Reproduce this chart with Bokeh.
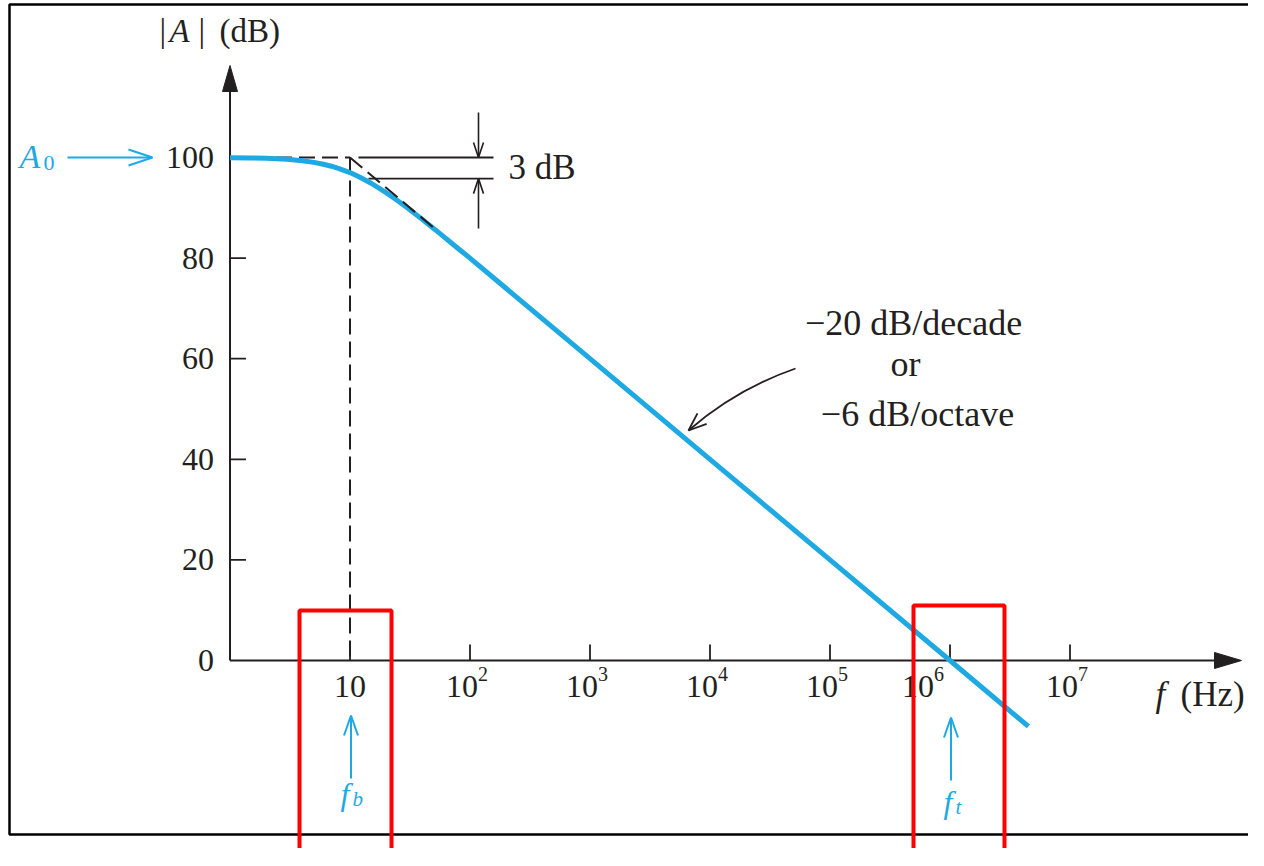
import math
from bokeh.plotting import figure
from bokeh.models import Range1d
from bokeh.core.properties import value
from bokeh.embed import file_html
from bokeh.resources import INLINE

# ---------------- data ----------------
freq_hz = [1, 1.5, 2, 3, 4, 5, 6, 7, 8, 10, 12, 15, 20, 25, 30, 40, 50, 60, 70, 80,
           100, 1e3, 1e4, 1e5, 1e6, 4.5e6]
gain_db = [99.96, 99.9, 99.83, 99.63, 99.36, 99.03, 98.66, 98.27, 97.85, 97.0, 96.13,
           94.88, 93.0, 91.4, 90.0, 87.7, 85.85, 84.32, 83.0, 81.87,
           80.0, 60.0, 40.0, 20.0, 0.0, -13.1]

asym_hz = [1, 10, 53]          # dashed asymptote
asym_db = [100, 100, 85.5]

x_tick_hz = [10, 1e2, 1e3, 1e4, 1e5, 1e6, 1e7]
x_tick_exp = [1, 2, 3, 4, 5, 6, 7]
y_ticks_db = [0, 20, 40, 60, 80, 100]
y_tick_labels = ["0", "20", "40", "60", "80", "100"]

A0_DB = 100
FB_HZ = 10
FT_HZ = 1e6
DROP_DB = 3

# ---------------- layout helpers ----------------
W, H = 1248, 848
OFF = 0
X_ORIGIN, PX_PER_DEC = 229.5, 120.0
Y_ORIGIN, PX_PER_DB = 660.0, 5.03
TDY = -12   # baseline correction for text glyphs (px)

def hz(px):
    return 10 ** ((px - X_ORIGIN) / PX_PER_DEC)

def db(py):
    return (Y_ORIGIN - py) / PX_PER_DB

def px_x(f):
    return X_ORIGIN + PX_PER_DEC * math.log10(f)

def px_y(d):
    return Y_ORIGIN - PX_PER_DB * d

INK = "#231f20"
BLUE = "#1ea9e3"
RED = "#ff0000"
SERIF = "Liberation Serif"

p = figure(width=W, height=H, output_backend="svg", toolbar_location=None,
           x_axis_type="log", x_axis_location=None, y_axis_location=None,
           x_range=Range1d(hz(OFF), hz(OFF + W)),
           y_range=Range1d(db(OFF + H), db(OFF)),
           min_border=0, outline_line_color=None, background_fill_color="white",
           border_fill_color="white")
p.min_border_left = p.min_border_right = p.min_border_top = p.min_border_bottom = 0
p.xgrid.grid_line_color = None
p.ygrid.grid_line_color = None


def txt(x_px, y_px, s, size, align="left", italic=False, color=INK):
    p.text(x=[hz(x_px)], y=[db(y_px + TDY)], text=[s], text_font=value(SERIF),
           text_font_size=f"{size}px", text_align=align, text_baseline="alphabetic",
           text_font_style="italic" if italic else "normal", text_color=color)


def head_pts(tip, direction, length, half):
    tx, ty = tip
    dx, dy = direction
    n = math.hypot(dx, dy)
    dx, dy = dx / n, dy / n
    bx, by = tx - dx * length, ty - dy * length
    nx, ny = -dy, dx
    pts = [(bx + nx * half, by + ny * half), (tx, ty), (bx - nx * half, by - ny * half)]
    return [hz(a) for a, _ in pts], [db(b) for _, b in pts]


def open_head(tip, direction, length, half, color=INK, width=1.6):
    xs, ys = head_pts(tip, direction, length, half)
    p.line(xs, ys, line_color=color, line_width=width)


def filled_head(tip, direction, length, half, color=INK):
    xs, ys = head_pts(tip, direction, length, half)
    p.patch(xs, ys, fill_color=color, line_color=color, line_width=1)


# ---------------- frame ----------------
p.line([hz(1300), hz(9), hz(9), hz(1300)], [db(4), db(4), db(834), db(834)],
       line_color="black", line_width=2.5)

# ---------------- axes ----------------
x_axis_end = hz(1236)
y_axis_top = db(70)
p.line([1, x_axis_end], [0, 0], line_color=INK, line_width=2)
p.line([1, 1], [0, y_axis_top], line_color=INK, line_width=2)
filled_head((1241, px_y(0)), (1, 0), 27, 8)
filled_head((px_x(1), 65), (0, -1), 26, 7.5)

# ticks
p.segment(x0=x_tick_hz, y0=[0] * len(x_tick_hz), x1=x_tick_hz,
          y1=[db(px_y(0) - 16)] * len(x_tick_hz), line_color=INK, line_width=1.8)
yt = [v for v in y_ticks_db if v > 0]
p.segment(x0=[1] * len(yt), y0=yt, x1=[hz(px_x(1) + 16)] * len(yt), y1=yt,
          line_color=INK, line_width=1.8)

# y tick labels
p.text(x=[1] * len(y_ticks_db), y=y_ticks_db, text=y_tick_labels, x_offset=-16,
       y_offset=12 + TDY,
       text_font=value(SERIF), text_font_size="32px", text_align="right",
       text_baseline="alphabetic", text_color=INK)

# x tick labels (10, 10^2 ... 10^7)
for f, e in zip(x_tick_hz, x_tick_exp):
    if e == 1:
        p.text(x=[f], y=[0], text=["10"], y_offset=38 + TDY, text_font=value(SERIF),
               text_font_size="32px", text_align="center", text_baseline="alphabetic",
               text_color=INK)
    else:
        shift = -16 if f == FT_HZ else 8
        p.text(x=[f], y=[0], text=["10"], x_offset=shift, y_offset=38 + TDY,
               text_font=value(SERIF),
               text_font_size="32px", text_align="right", text_baseline="alphabetic",
               text_color=INK)
        p.text(x=[f], y=[0], text=[str(e)], x_offset=shift, y_offset=25 + TDY,
               text_font=value(SERIF),
               text_font_size="20px", text_align="left", text_baseline="alphabetic",
               text_color=INK)

# axis titles
txt(159, 42, "|", 33)
txt(169, 42, "A", 33, italic=True)
txt(198, 42, "|", 33)
txt(219, 42, "(dB)", 33)
txt(1155, 706, "f", 35, italic=True)
txt(1180, 706, "(Hz)", 35)

# ---------------- dashed asymptotes (flat part + fb drop line) ----------------
p.line(asym_hz[:2], asym_db[:2], line_color=INK, line_width=2, line_dash="16 7")
p.line([FB_HZ, FB_HZ], [A0_DB, 0], line_color=INK, line_width=2, line_dash="16 7")

# ---------------- 3 dB marker ----------------
p.segment(x0=[hz(358), hz(368)], y0=[A0_DB, A0_DB - DROP_DB - 1.2],
          x1=[hz(493), hz(493)], y1=[A0_DB, A0_DB - DROP_DB - 1.2],
          line_color=INK, line_width=1.8)
ax = hz(478)
y_top = px_y(A0_DB)
y_bot = px_y(A0_DB - DROP_DB - 1.2)
p.line([ax, ax], [db(112), A0_DB], line_color=INK, line_width=1.6)
open_head((478, y_top), (0, 1), 15, 5)
p.line([ax, ax], [db(228), A0_DB - DROP_DB - 1.2], line_color=INK, line_width=1.6)
open_head((478, y_bot), (0, -1), 15, 5)
txt(508, 179, "3 dB", 35)

# ---------------- response curve ----------------
p.line(freq_hz, gain_db, line_color=BLUE, line_width=5, line_cap="butt")

# sloped asymptote drawn over the curve edge, as in the reference
p.line(asym_hz[1:], asym_db[1:], line_color=INK, line_width=2, line_dash="16 7")

# ---------------- slope annotation ----------------
txt(913, 334, "\u221220 dB/decade", 36, align="center")
txt(905, 375, "or", 36, align="center")
txt(917, 425, "\u22126 dB/octave", 36, align="center")
p.quadratic(x0=[hz(795)], y0=[db(368)], x1=[hz(688)], y1=[db(430)],
            cx=[hz(735)], cy=[db(389)], line_color=INK, line_width=1.8)
open_head((688, 430), (-47, 41), 18, 7, width=1.8)

# ---------------- A0, fb, ft labels ----------------
txt(19, 168, "A", 34, italic=True, color=BLUE)
txt(43, 174, "0", 22, color=BLUE)
p.line([hz(67), hz(151)], [A0_DB, A0_DB], line_color=BLUE, line_width=2)
open_head((152, px_y(A0_DB)), (1, 0), 24, 8, color=BLUE, width=2)

fbx = px_x(FB_HZ) + 1
p.line([hz(fbx), hz(fbx)], [db(778), db(716)], line_color=BLUE, line_width=2)
open_head((fbx, 715), (0, -1), 20, 7, color=BLUE, width=2)
txt(340, 805, "f", 32, italic=True, color=BLUE)
txt(352, 810, "b", 21, italic=True, color=BLUE)

ftx = px_x(FT_HZ) + 1
p.line([hz(ftx), hz(ftx)], [db(780), db(718)], line_color=BLUE, line_width=2)
open_head((ftx, 717), (0, -1), 20, 7, color=BLUE, width=2)
txt(943, 813, "f", 32, italic=True, color=BLUE)
txt(955, 818, "t", 21, italic=True, color=BLUE)

# ---------------- red highlight boxes ----------------
p.quad(left=[hz(299), hz(913)], right=[hz(391), hz(1004)],
       top=[db(610), db(605)], bottom=[db(872), db(863)],
       fill_alpha=0, line_color=RED, line_width=4)

open("out.html", "w").write(file_html(p, INLINE))
